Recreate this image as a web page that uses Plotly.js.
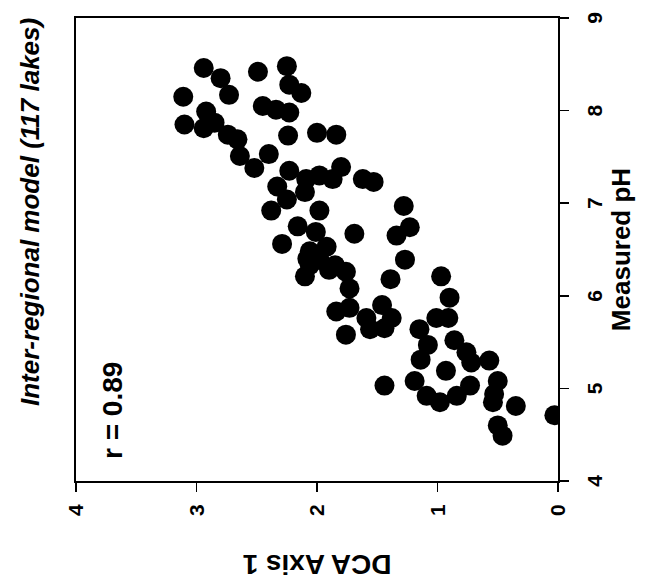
<!DOCTYPE html>
<html>
<head>
<meta charset="utf-8">
<script src="https://cdn.plot.ly/plotly-3.0.1.min.js"></script>
<style>
  html, body { margin: 0; padding: 0; background: #ffffff; overflow: hidden; width: 654px; height: 584px; }
  #chart { position: absolute; left: 0; top: 0; width: 584px; height: 654px;
           transform-origin: 0 0; transform: translateY(584px) rotate(-90deg); }
</style>
</head>
<body>
<div id="chart"></div>
<script>
// Measured pH (x) and DCA Axis 1 score (y) for each lake
const measuredPH = [
  8.46, 8.42, 8.48, 8.35, 8.17, 8.15, 8.28, 8.19, 8.05, 8.01,
  7.98, 7.99, 7.87, 7.85, 7.81, 7.74, 7.69, 7.51, 7.38, 7.53,
  7.73, 7.76, 7.74, 7.18, 7.35, 7.39, 7.26, 7.23, 7.26, 7.30,
  7.26, 7.12, 6.92, 7.04, 6.92, 6.97, 6.75, 6.56, 6.69, 6.67,
  6.65, 6.74, 6.48, 6.53, 6.33, 6.33, 6.21, 6.26, 6.39, 6.39,
  6.18, 6.08, 6.21, 5.98, 5.83, 5.87, 5.76, 5.90, 5.76, 5.58,
  5.64, 5.65, 5.64, 5.76, 5.76, 5.47, 5.52, 5.39, 5.28, 5.30,
  5.31, 5.19, 5.03, 5.08, 4.92, 4.85, 4.92, 5.03, 5.08, 4.94,
  4.85, 4.81, 4.60, 4.49, 4.71, 6.40, 6.28
];
const dcaAxis1 = [
  2.94, 2.49, 2.25, 2.80, 2.73, 3.11, 2.23, 2.13, 2.45, 2.34,
  2.23, 2.92, 2.85, 3.10, 2.94, 2.74, 2.66, 2.64, 2.52, 2.40,
  2.24, 2.00, 1.84, 2.33, 2.23, 1.80, 1.62, 1.53, 2.09, 1.98,
  1.87, 2.10, 2.38, 2.25, 1.98, 1.28, 2.16, 2.29, 2.01, 1.69,
  1.34, 1.23, 2.06, 1.92, 2.06, 1.85, 2.10, 1.76, 1.98, 1.27,
  1.39, 1.73, 0.97, 0.90, 1.84, 1.73, 1.59, 1.46, 1.38, 1.76,
  1.56, 1.44, 1.15, 1.01, 0.91, 1.08, 0.86, 0.76, 0.72, 0.57,
  1.14, 0.93, 1.44, 1.19, 1.09, 0.98, 0.84, 0.73, 0.50, 0.53,
  0.54, 0.35, 0.50, 0.46, 0.03, 2.08, 1.90
];
const phTicks = [4, 5, 6, 7, 8, 9];
const dcaTicks = [0, 1, 2, 3, 4];
const chartTitle = "Inter-regional model (117 lakes)";
const xTitle = "Measured pH";
const yTitle = "DCA Axis 1";
const corrLabel = "r = 0.89";

const FONT = '"Liberation Sans", Arial, Helvetica, sans-serif';

const trace = {
  type: 'scatter',
  mode: 'markers',
  x: measuredPH,
  y: dcaAxis1,
  marker: { color: '#000000', size: 20, line: { width: 0 } },
  hoverinfo: 'x+y'
};

const axisCommon = {
  showgrid: false,
  zeroline: false,
  showline: true,
  linecolor: '#000000',
  linewidth: 2,
  mirror: true,
  ticks: 'outside',
  ticklen: 9,
  tickwidth: 1.5,
  tickcolor: '#000000',
  tickfont: { family: FONT, size: 21, color: '#000000', weight: 'bold' },
  automargin: false
};

const layout = {
  width: 584,
  height: 654,
  margin: { l: 103, r: 15, t: 76, b: 96, pad: 0 },
  paper_bgcolor: '#ffffff',
  plot_bgcolor: '#ffffff',
  showlegend: false,
  font: { family: FONT, color: '#000000' },
  xaxis: Object.assign({}, axisCommon, {
    range: [4, 9],
    tickvals: phTicks,
    ticktext: phTicks.map(String),
    ticklabelstandoff: 8,
    automargin: true,
    title: { text: '<b>' + xTitle + '</b>', font: { family: FONT, size: 26, color: '#000000' }, standoff: 4 }
  }),
  yaxis: Object.assign({}, axisCommon, {
    range: [0, 4],
    tickvals: dcaTicks,
    ticktext: dcaTicks.map(String),
    ticklabelstandoff: 8,
    title: { text: '<b>' + yTitle + '</b>', font: { family: FONT, size: 28, color: '#000000' }, standoff: 30 }
  }),
  annotations: [
    {
      text: '<b><i>' + chartTitle + '</i></b>',
      xref: 'paper', yref: 'paper',
      x: 0.581, y: 1.095,
      xanchor: 'center', yanchor: 'middle',
      showarrow: false,
      font: { family: FONT, size: 26, color: '#000000' }
    },
    {
      text: '<b>' + corrLabel + '</b>',
      xref: 'x', yref: 'y',
      x: 4.22, y: 3.7,
      xanchor: 'left', yanchor: 'middle',
      showarrow: false,
      font: { family: FONT, size: 28, color: '#000000' }
    }
  ]
};

Plotly.newPlot('chart', [trace], layout, { displayModeBar: false, staticPlot: true });
</script>
</body>
</html>
